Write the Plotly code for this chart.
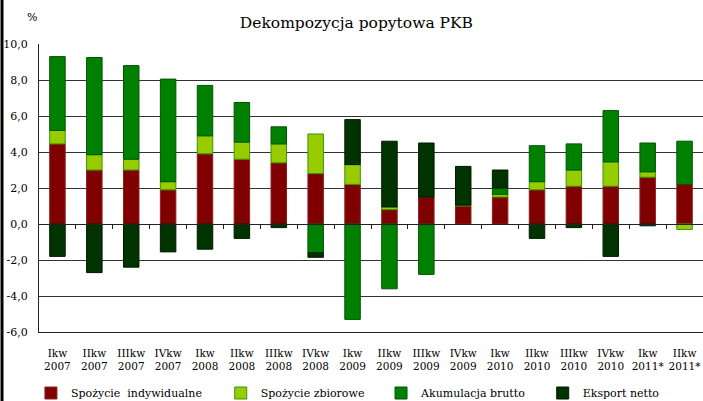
import plotly.graph_objects as go

categories = ["Ikw<br>2007", "IIkw<br>2007", "IIIkw<br>2007", "IVkw<br>2007",
              "Ikw<br>2008", "IIkw<br>2008", "IIIkw<br>2008", "IVkw<br>2008",
              "Ikw<br>2009", "IIkw<br>2009", "IIIkw<br>2009", "IVkw<br>2009",
              "Ikw<br>2010", "IIkw<br>2010", "IIIkw<br>2010", "IVkw<br>2010",
              "Ikw<br>2011*", "IIkw<br>2011*"]

spozycie_ind = [4.45, 3.0, 3.0, 1.9, 3.9, 3.6, 3.4, 2.8, 2.2, 0.8, 1.5, 1.0, 1.5, 1.9, 2.1, 2.1, 2.6, 2.2]
spozycie_zb = [0.75, 0.85, 0.6, 0.45, 1.0, 0.95, 1.05, 2.2, 1.1, 0.15, None, 0.05, 0.15, 0.45, 0.9, 1.35, 0.3, -0.3]
akumulacja = [4.1, 5.4, 5.2, 5.7, 2.8, 2.2, 0.95, -1.6, -5.3, -3.6, -2.8, None, 0.35, 2.0, 1.45, 2.85, 1.6, 2.4]
eksport = [-1.8, -2.7, -2.4, -1.55, -1.4, -0.8, -0.2, -0.25, 2.5, 3.65, 3.0, 2.15, 1.0, -0.8, -0.2, -1.8, -0.1, None]

series_names = ["Spożycie  indywidualne", "Spożycie zbiorowe", "Akumulacja brutto", "Eksport netto"]
series_values = [spozycie_ind, spozycie_zb, akumulacja, eksport]
fill_colors = ["#800000", "#99CC00", "#008000", "#003300"]
line_colors = ["#8a2020", "#339900", "#005500", "#001a00"]
legend_ids = ["legend", "legend2", "legend3", "legend4"]
legend_x = [0.044, 0.314, 0.542, 0.772]

ytick_vals = [-6, -4, -2, 0, 2, 4, 6, 8, 10]
ytick_text = ["-6,0", "-4,0", "-2,0", "0,0", "2,0", "4,0", "6,0", "8,0", "10,0"]

FONT = "DejaVu Serif"

fig = go.Figure()
for name, vals, fc, lc, lg in zip(series_names, series_values, fill_colors, line_colors, legend_ids):
    fig.add_trace(go.Bar(
        x=categories, y=vals, name=name,
        marker=dict(color=fc, line=dict(color=lc, width=1)),
        width=0.42, legend=lg,
    ))

# axis at zero with category separator ticks
n = len(categories)
fig.add_trace(go.Scatter(x=[None], y=[None], xaxis="x2", yaxis="y",
                         showlegend=False, hoverinfo="skip", mode="markers"))

layout_legends = {}
for lg, lx in zip(legend_ids, legend_x):
    layout_legends[lg] = dict(
        x=lx, y=1 - 393 / 401, xref="container", yref="container",
        xanchor="left", yanchor="middle",
        orientation="h", bgcolor="rgba(0,0,0,0)",
        font=dict(family=FONT, size=11, color="black", weight="normal", style="normal"),
        itemwidth=30, tracegroupgap=0,
    )

fig.update_layout(
    width=703, height=401,
    margin=dict(l=39, r=0, t=44, b=69, autoexpand=False),
    paper_bgcolor="white", plot_bgcolor="white",
    barmode="relative",
    title=dict(text="Dekompozycja popytowa PKB", x=0.507, xanchor="center",
               y=1 - 23 / 401, yref="container", yanchor="middle",
               font=dict(family=FONT, size=15.5, color="black")),
    font=dict(family=FONT, size=11, color="black"),
    xaxis=dict(type="category", range=[-0.5, n - 0.5], showline=True, linecolor="#222",
               linewidth=1, ticks="", showgrid=False, zeroline=False, automargin=False,
               tickfont=dict(family=FONT, size=10.5, color="black"), ticklabelstandoff=11),
    xaxis2=dict(overlaying="x", anchor="free", position=6 / 16, type="linear",
                range=[-0.5, n - 0.5], tickvals=[i + 0.5 for i in range(n - 1)],
                showticklabels=False, ticks="outside", ticklen=4, tickcolor="#222",
                showline=True, linecolor="#222", linewidth=1, showgrid=False, zeroline=False),
    yaxis=dict(range=[-6, 10], tickvals=ytick_vals, ticktext=ytick_text, automargin=False,
               showline=True, linecolor="#222", linewidth=1, showgrid=True,
               gridcolor="#333", gridwidth=1, zeroline=False, ticks="",
               tickfont=dict(family=FONT, size=11, color="black"), ticklabelstandoff=8),
    showlegend=True,
    **layout_legends,
)

fig.add_annotation(text="%", xref="paper", yref="paper", x=-7 / 664, y=(332 - 17) / 288,
                   showarrow=False, font=dict(family=FONT, size=11, color="black"),
                   xanchor="center", yanchor="middle")

fig.add_shape(type="line", xref="paper", yref="paper", x0=-37 / 664, x1=-37 / 664,
              y0=-69 / 288, y1=(288 + 44) / 288, line=dict(color="black", width=3))

fig.write_html("out.html", config={"displayModeBar": False},
               post_script="document.body.style.margin='0';")
